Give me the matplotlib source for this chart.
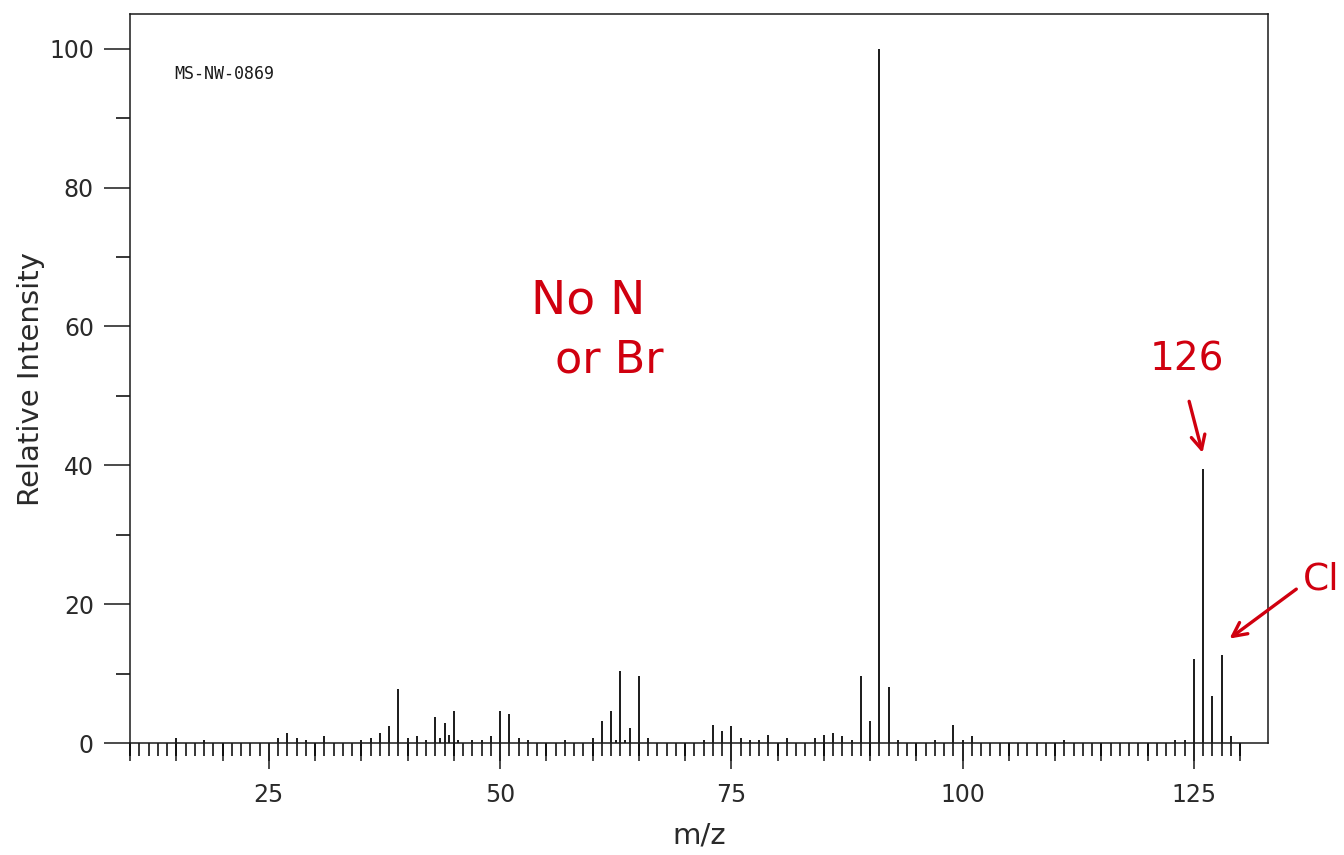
import numpy as np
import matplotlib
matplotlib.use("Agg")
import matplotlib.pyplot as plt

# ── data ──────────────────────────────────────────────────────────────────────
mz = [15, 18, 26, 27, 28, 29, 31, 35, 36, 37, 38, 39, 40, 41, 42, 43, 43.5, 44,
      44.5, 45, 45.5, 47, 48, 49, 50, 51, 52, 53, 57, 60, 61, 62, 62.5, 63, 63.5,
      64, 65, 66, 72, 73, 74, 75, 76, 77, 78, 79, 81, 84, 85, 86, 87, 88, 89, 90,
      91, 92, 93, 97, 99, 100, 101, 111, 123, 124, 125, 126, 127, 128, 129]
intensity = [0.7, 0.5, 0.7, 1.5, 0.7, 0.5, 1.0, 0.5, 0.7, 1.5, 2.4, 7.8, 0.7, 1.0,
             0.5, 3.7, 0.7, 2.9, 1.2, 4.6, 0.5, 0.5, 0.5, 1.0, 4.6, 4.2, 0.7, 0.5,
             0.5, 0.7, 3.2, 4.6, 0.4, 10.3, 0.4, 2.1, 9.7, 0.7, 0.5, 2.6, 1.8, 2.4,
             0.7, 0.5, 0.5, 1.2, 0.7, 0.7, 1.2, 1.5, 1.0, 0.5, 9.7, 3.2, 100.0, 8.1,
             0.5, 0.5, 2.6, 0.5, 1.0, 0.5, 0.5, 0.5, 12.1, 39.4, 6.7, 12.7, 1.0]

x_major = [25, 50, 75, 100, 125]
x_mid = list(range(10, 131, 5))
x_minor = list(range(10, 131))
y_major = [0, 20, 40, 60, 80, 100]
y_minor = [10, 30, 50, 70, 90]

spectrum_id = "MS-NW-0869"
red = "#d0000f"

# ── figure ────────────────────────────────────────────────────────────────────
fig = plt.figure(figsize=(13.44, 8.55), dpi=100)
ax = fig.add_axes([130 / 1344, 1 - 743 / 855, 1138 / 1344, 729 / 855])

ax.vlines(mz, 0, intensity, color="#1a1a1a", lw=1.4)
ax.set_xlim(10, 133)
ax.set_ylim(0, 105)

for s in ax.spines.values():
    s.set_linewidth(1.1)
    s.set_color("#1a1a1a")

ax.set_xticks(x_major)
ax.set_xticks(x_minor, minor=True)
ax.tick_params(axis="x", which="major", length=19, width=1.1, pad=10,
               labelsize=17, colors="#1a1a1a")
ax.tick_params(axis="x", which="minor", length=9, width=1.1)
ax.set_yticks(y_major)
ax.set_yticks(y_minor, minor=True)
ax.tick_params(axis="y", which="major", length=19, width=1.1, pad=7,
               labelsize=17, colors="#1a1a1a")
ax.tick_params(axis="y", which="minor", length=10, width=1.1)

# medium ticks at every 5
sec = ax.secondary_xaxis("bottom")
sec.set_xticks(x_mid)
sec.set_xticklabels([])
sec.tick_params(length=13, width=1.1, color="#1a1a1a")
sec.spines["bottom"].set_visible(False)

for lab in ax.get_xticklabels() + ax.get_yticklabels():
    lab.set_color("#2a2a2a")

ax.set_xlabel("m/z", fontsize=21, color="#2a2a2a", labelpad=10)
ax.set_ylabel("Relative Intensity", fontsize=21, color="#2a2a2a", labelpad=3)

ax.text(14.8, 96.3, spectrum_id, fontsize=12, family="DejaVu Sans Mono",
        ha="left", va="center", color="#1a1a1a")

# ── handwritten notes ─────────────────────────────────────────────────────────
ax.text(59.5, 63.6, "No N", fontsize=34, color=red, ha="center", va="center")
ax.text(61.8, 55.1, "or Br", fontsize=32, color=red, ha="center", va="center")
ax.text(124.2, 55.3, "126", fontsize=28, color=red, ha="center", va="center")
ax.text(136.8, 23.5, "Cl", fontsize=27, color=red, ha="left", va="center",
        clip_on=False)

ax.annotate("", xy=(126.0, 41.4), xytext=(124.4, 49.6),
            arrowprops=dict(arrowstyle="->", color=red, lw=2.4,
                            mutation_scale=25), annotation_clip=False)
ax.annotate("", xy=(128.6, 14.8), xytext=(136.3, 22.4),
            arrowprops=dict(arrowstyle="->", color=red, lw=2.4,
                            mutation_scale=25), annotation_clip=False)

fig.savefig("out.png", dpi=100)
